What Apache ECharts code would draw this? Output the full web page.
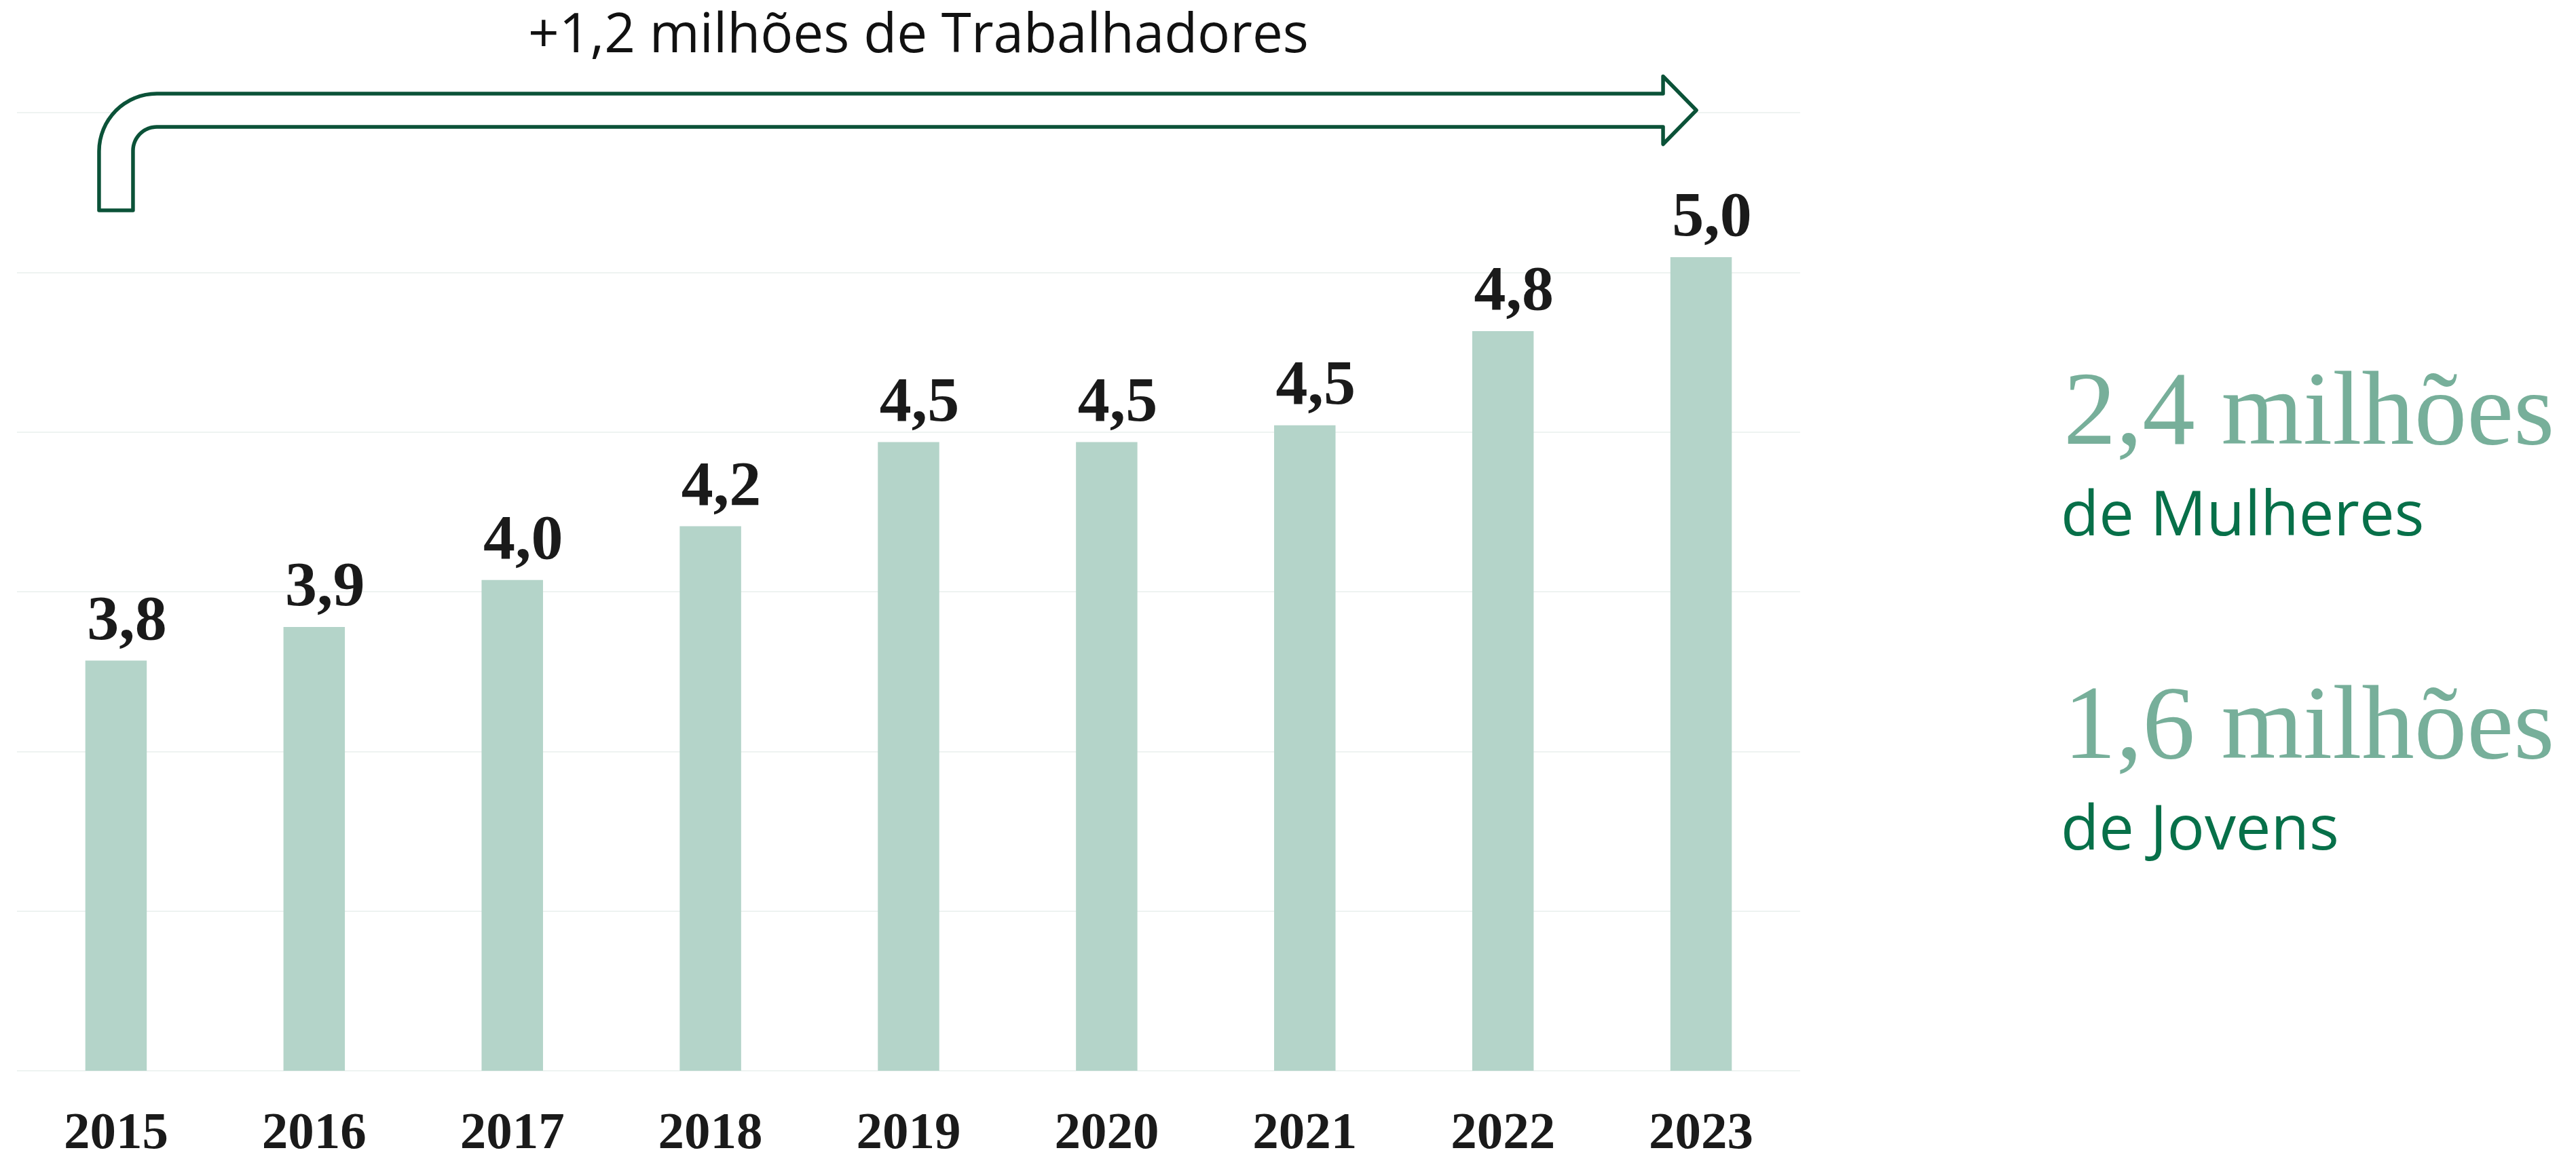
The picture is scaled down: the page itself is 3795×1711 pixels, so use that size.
<!DOCTYPE html>
<html>
<head>
<meta charset="utf-8">
<title>Trabalhadores</title>
<script src="https://cdn.jsdelivr.net/npm/echarts@6/dist/echarts.min.js"></script>
<style>
  html, body { margin: 0; padding: 0; background: #ffffff; }
  #main { width: 3795px; height: 1711px; }
</style>
</head>
<body>
<div id="main"></div>
<script>
// data (millions of workers)
var years = ['2015', '2016', '2017', '2018', '2019', '2020', '2021', '2022', '2023'];
var workers = [3.8, 3.9, 4.04, 4.2, 4.45, 4.45, 4.5, 4.78, 5.0];
var workerLabels = ['3,8', '3,9', '4,0', '4,2', '4,5', '4,5', '4,5', '4,8', '5,0'];
var headline = '+1,2 milhões de Trabalhadores';
var sideNumbers = ['2,4 milhões', '1,6 milhões'];
var sideCaptions = ['de Mulheres', 'de Jovens'];

var barColor = '#b4d4c9';
var gridColor = '#eef3f1';
var arrowColor = '#0b5238';
var sageColor = '#77af9a';
var darkGreen = '#077049';

var chartDom = document.getElementById('main');
var chart = echarts.init(chartDom, null, { renderer: 'canvas' });

var option = {
  backgroundColor: '#ffffff',
  animation: false,
  grid: { left: 25, right: 1143, top: 166, bottom: 130 },
  xAxis: {
    type: 'category',
    data: years,
    axisLine: { show: false },
    axisTick: { show: false },
    axisLabel: {
      margin: 56,
      color: '#1a1a1a',
      fontFamily: 'Liberation Serif',
      fontWeight: 'bold',
      fontSize: 77
    }
  },
  yAxis: [
    {
      // bars scale
      type: 'value',
      min: 2.58,
      max: 5.43,
      show: false,
      splitLine: { show: false }
    },
    {
      // only for the light grid lines
      type: 'value',
      min: 0,
      max: 6,
      interval: 1,
      axisLine: { show: false },
      axisTick: { show: false },
      axisLabel: { show: false },
      splitLine: { show: true, lineStyle: { color: gridColor, width: 2 } }
    }
  ],
  series: [
    {
      name: 'Trabalhadores',
      type: 'bar',
      yAxisIndex: 0,
      barWidth: '31%',
      data: workers,
      itemStyle: { color: barColor },
      label: {
        show: true,
        position: 'top',
        distance: 9,
        offset: [16, 0],
        color: '#1a1a1a',
        fontFamily: 'Liberation Serif',
        fontWeight: 'bold',
        fontSize: 94,
        formatter: function (p) {
          return workerLabels[p.dataIndex];
        }
      }
    }
  ]
};

chart.setOption(option);

// bent arrow above the bars, from first to last year
var x0 = chart.convertToPixel({ xAxisIndex: 0 }, years[0]);
var x1 = chart.convertToPixel({ xAxisIndex: 0 }, years[years.length - 1]);
var yc = chart.convertToPixel({ yAxisIndex: 1 }, 6) - 3.5;

var half = 25;      // half width of the arrow body
var headHalf = 50;  // half height of the head
var L = x0 - half, R = x0 + half;
var T = yc - 24.5, S = yc + 24.5;
var B = 310;
var tip = x1 - 7, H = tip - 49;
var ro = 85, ri = 35;

var arrowPts = [[L, B], [L, T + ro]];
var i, a;
// outer corner
for (i = 1; i <= 16; i++) {
  a = Math.PI + (Math.PI / 2) * i / 16;
  arrowPts.push([L + ro + ro * Math.cos(a), T + ro + ro * Math.sin(a)]);
}
arrowPts.push([H, T], [H, yc - headHalf], [tip, yc], [H, yc + headHalf], [H, S], [R + ri, S]);
// inner corner
for (i = 1; i <= 16; i++) {
  a = Math.PI * 1.5 - (Math.PI / 2) * i / 16;
  arrowPts.push([R + ri + ri * Math.cos(a), S + ri + ri * Math.sin(a)]);
}
arrowPts.push([R, B]);

chart.setOption({
  graphic: [
    {
      type: 'polygon',
      shape: { points: arrowPts },
      style: { fill: '#ffffff', stroke: arrowColor, lineWidth: 5.5, lineJoin: 'round' },
      z: 10
    },
    {
      type: 'text',
      x: 1353,
      y: 54,
      style: {
        text: headline,
        fill: '#111111',
        font: '80px "Open Sans"',
        textAlign: 'center',
        textVerticalAlign: 'middle'
      }
    },
    {
      type: 'text', x: 3040, y: 613,
      style: { text: sideNumbers[0], fill: sageColor, font: '155px "Liberation Serif"', textVerticalAlign: 'middle' }
    },
    {
      type: 'text', x: 3036, y: 763,
      style: { text: sideCaptions[0], fill: darkGreen, font: '92px "Open Sans"', textVerticalAlign: 'middle' }
    },
    {
      type: 'text', x: 3040, y: 1076,
      style: { text: sideNumbers[1], fill: sageColor, font: '155px "Liberation Serif"', textVerticalAlign: 'middle' }
    },
    {
      type: 'text', x: 3036, y: 1226,
      style: { text: sideCaptions[1], fill: darkGreen, font: '92px "Open Sans"', textVerticalAlign: 'middle' }
    }
  ]
});
</script>
</body>
</html>
